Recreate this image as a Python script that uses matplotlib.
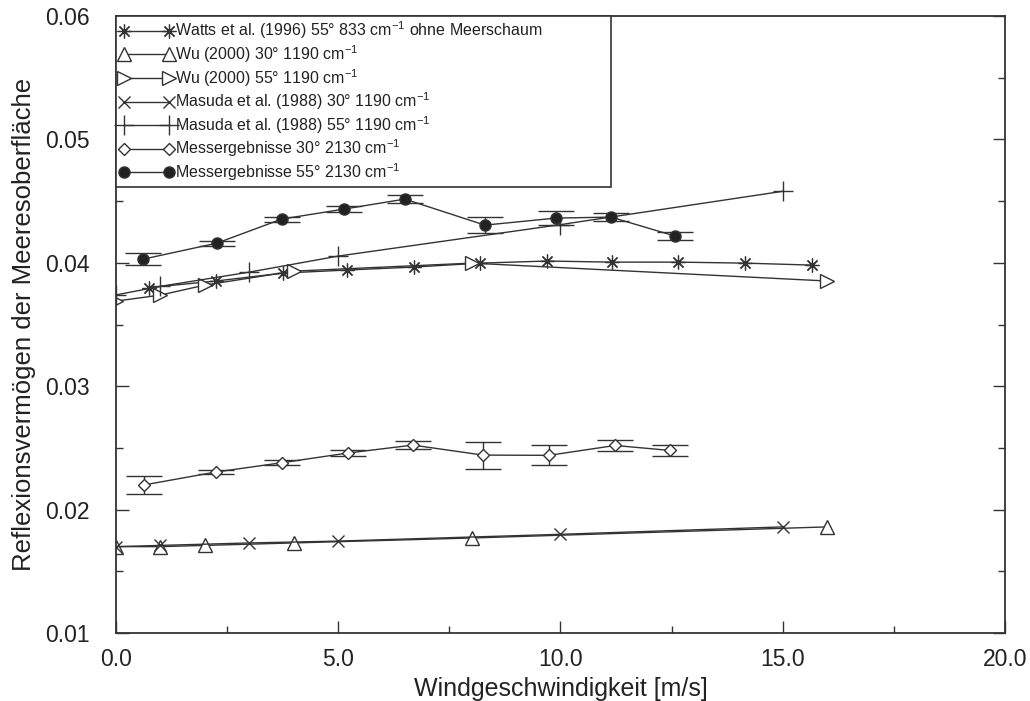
import numpy as np
import matplotlib
matplotlib.use('Agg')
import matplotlib.pyplot as plt
from matplotlib.lines import Line2D

plt.rcParams['font.family'] = ['Liberation Sans', 'DejaVu Sans']
plt.rcParams['mathtext.fontset'] = 'custom'
plt.rcParams['mathtext.rm'] = 'Liberation Sans'

# Watts et al. (1996) 55 deg 833 cm^-1
watts_x = [0.75, 2.25, 3.75, 5.2, 6.7, 8.2, 9.7, 11.15, 12.65, 14.15, 15.65]
watts_y = [0.0380, 0.03853, 0.03917, 0.03942, 0.03966, 0.03998, 0.04015, 0.04006, 0.04006, 0.03998, 0.03982]

# Wu (2000)
wu_x = [0, 1, 2, 4, 8, 16]
wu30_y = [0.0170, 0.0170, 0.0171, 0.0173, 0.0177, 0.0186]
wu55_y = [0.0369, 0.03739, 0.0382, 0.03933, 0.03998, 0.03853]

# Masuda et al. (1988)
masuda_x = [0, 1, 3, 5, 10, 15]
masuda30_y = [0.0170, 0.0171, 0.0173, 0.01745, 0.0180, 0.0186]
masuda55_y = [0.0374, 0.0381, 0.03925, 0.04055, 0.0431, 0.0458]

# Messergebnisse 2130 cm^-1
mess30_x = [0.63, 2.25, 3.73, 5.22, 6.68, 8.26, 9.74, 11.23, 12.46]
mess30_y = [0.0220, 0.02305, 0.0238, 0.02459, 0.02523, 0.02442, 0.0244, 0.0252, 0.0248]
mess30_err = [0.0007, 0.0002, 0.0002, 0.00025, 0.00035, 0.0011, 0.0008, 0.00045, 0.00045]
mess55_x = [0.61, 2.27, 3.73, 5.13, 6.50, 8.30, 9.90, 11.14, 12.58]
mess55_y = [0.0403, 0.0416, 0.04355, 0.04436, 0.04517, 0.04306, 0.04363, 0.04371, 0.04217]
mess55_err = [0.0005, 0.0002, 0.0002, 0.00025, 0.0003, 0.00065, 0.0006, 0.00035, 0.00035]

labels = ['Watts et al. (1996) 55\u00b0 833 cm$^{-1}$ ohne Meerschaum',
          'Wu (2000) 30\u00b0 1190 cm$^{-1}$',
          'Wu (2000) 55\u00b0 1190 cm$^{-1}$',
          'Masuda et al. (1988) 30\u00b0 1190 cm$^{-1}$',
          'Masuda et al. (1988) 55\u00b0 1190 cm$^{-1}$',
          'Messergebnisse 30\u00b0 2130 cm$^{-1}$',
          'Messergebnisse 55\u00b0 2130 cm$^{-1}$']

col = '#333333'
narrow = ['Liberation Sans Narrow', 'Liberation Sans']
fig = plt.figure(figsize=(10.3, 7.01), dpi=100)
ax = fig.add_axes([0.1126, 0.097, 0.863, 0.880])

lw = 1.0
styles = [dict(marker=(8, 2, 0), ms=10, mew=0.9),
          dict(marker='^', ms=10, mfc='white', mew=1.0),
          dict(marker='>', ms=10, mfc='white', mew=1.0),
          dict(marker='x', ms=8, mew=1.0),
          dict(marker='+', ms=14, mew=1.0),
          dict(marker='D', ms=6, mfc='white', mew=1.0),
          dict(marker='o', ms=8, mfc='#222222', mew=1.0)]

ax.plot(watts_x, watts_y, color=col, lw=lw, **styles[0])
ax.plot(wu_x, wu30_y, color=col, lw=lw, **styles[1])
ax.plot(wu_x, wu55_y, color=col, lw=lw, **styles[2])
ax.plot(masuda_x, masuda30_y, color=col, lw=lw, **styles[3])
ax.plot(masuda_x, masuda55_y, color=col, lw=lw, **styles[4])
ax.errorbar(mess30_x, mess30_y, yerr=mess30_err, color=col, lw=lw, capsize=13,
            elinewidth=1.0, capthick=1.0, **styles[5])
ax.errorbar(mess55_x, mess55_y, yerr=mess55_err, color=col, lw=lw, capsize=13,
            elinewidth=1.0, capthick=1.0, **styles[6])

ax.set_xlim(0, 20)
ax.set_ylim(0.01, 0.06)
ax.set_xticks(np.arange(0, 20.1, 5))
ax.set_xticks(np.arange(0, 20.1, 2.5), minor=True)
ax.set_yticks(np.arange(0.01, 0.0601, 0.01))
ax.set_yticks(np.arange(0.01, 0.0601, 0.005), minor=True)
ax.set_xticklabels(['0.0', '5.0', '10.0', '15.0', '20.0'])
ax.set_yticklabels(['0.01', '0.02', '0.03', '0.04', '0.05', '0.06'])
ax.tick_params(which='both', direction='in', right=True, labelsize=16.5, color=col, labelcolor='#222222')
ax.tick_params(axis='y', pad=19)
ax.tick_params(axis='x', pad=11)
ax.tick_params(which='major', length=9, width=1)
ax.tick_params(which='minor', length=5, width=1)
for s in ax.spines.values():
    s.set_linewidth(1.3)
    s.set_color(col)

ax.set_xlabel('Windgeschwindigkeit [m/s]', fontsize=18, family=narrow, labelpad=4, color='#222222')
ax.set_ylabel('Reflexionsverm\u00f6gen der Meeresoberfl\u00e4che', fontsize=18.5,
              family=narrow, color='#222222')
ax.yaxis.set_label_coords(-0.09, 0.5)

# legend with plain line+marker handles (no error bar caps)
handles = [Line2D([], [], color=col, lw=lw, **st) for st in styles]
leg = ax.legend(handles, labels, loc='upper left', bbox_to_anchor=(0, 0.806, 0.557, 0.194), mode='expand',
                borderaxespad=0, fontsize=11.5, numpoints=2, handlelength=3.4, handletextpad=0.1,
                labelspacing=0.12, borderpad=0.22, fancybox=False, framealpha=1, edgecolor=col)
leg.get_frame().set_linewidth(1.2)
for t in leg.get_texts():
    t.set_color('#222222')

plt.savefig('out.png', dpi=100)
